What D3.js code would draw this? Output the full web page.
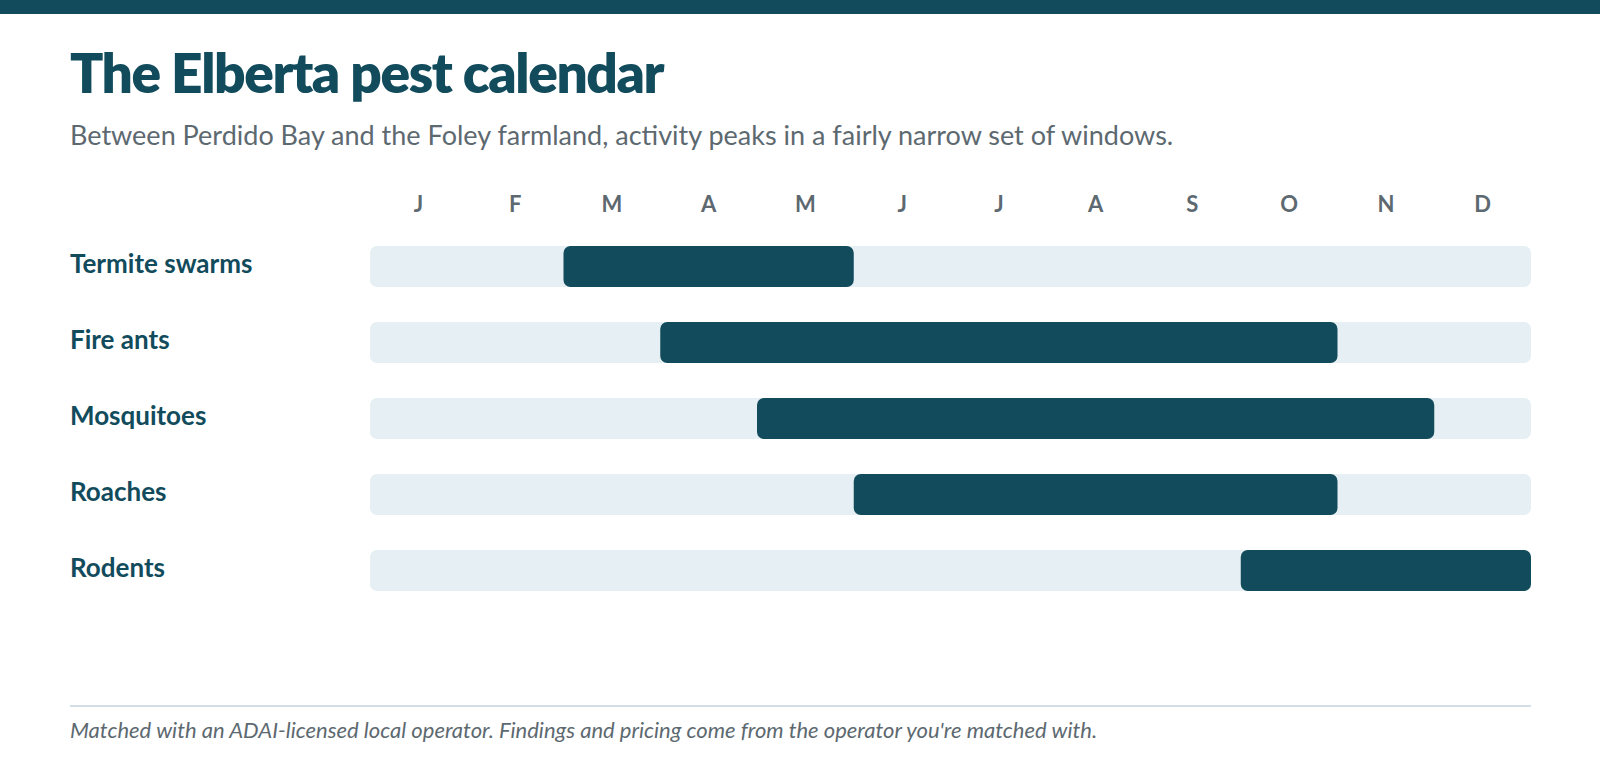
<!DOCTYPE html>
<html>
<head>
<meta charset="utf-8">
<script src="https://cdnjs.cloudflare.com/ajax/libs/d3/7.8.5/d3.min.js"></script>
<style>
  body { margin: 0; background: #fff; }
  svg { display: block; font-family: Lato, "Open Sans", sans-serif; }
</style>
</head>
<body>
<div class="chart"></div>
<script>
const width = 1600;
const height = 778;

// months shown across the top
const months = ["J", "F", "M", "A", "M", "J", "J", "A", "S", "O", "N", "D"];
// pests, first active month (0 = Jan) and last active month
const pests = ["Termite swarms", "Fire ants", "Mosquitoes", "Roaches", "Rodents"];
const startMonth = [2, 3, 4, 5, 9];
const endMonth = [4, 9, 10, 9, 11];

const dark = "#114b5c";
const grey = "#5d6970";

const svg = d3.select(".chart")
  .append("svg")
  .attr("width", width)
  .attr("height", height);

// top band
svg.append("rect")
  .attr("x", 0).attr("y", 0)
  .attr("width", width).attr("height", 14)
  .attr("fill", dark);

svg.append("text")
  .attr("x", 70).attr("y", 93)
  .attr("fill", dark)
  .attr("style", "font-size:55px;font-weight:800;letter-spacing:-1.4px")
  .text("The Elberta pest calendar");

svg.append("text")
  .attr("x", 70).attr("y", 145)
  .attr("fill", grey)
  .attr("style", "font-size:27px")
  .text("Between Perdido Bay and the Foley farmland, activity peaks in a fairly narrow set of windows.");

let xScale = d3.scaleLinear()
  .domain([0, 12])
  .range([370, 1531]);

let yScale = d3.scaleBand()
  .domain(pests)
  .range([246, 591])
  .paddingInner(0.46)
  .paddingOuter(0);

// month letters
svg.selectAll(".month")
  .data(months)
  .enter()
  .append("text")
  .attr("class", "month")
  .attr("x", (d, i) => xScale(i + 0.5))
  .attr("y", 212)
  .attr("text-anchor", "middle")
  .attr("fill", grey)
  .attr("style", "font-size:22px;font-weight:700")
  .text(d => d);

const rows = svg.selectAll(".row")
  .data(pests)
  .enter()
  .append("g")
  .attr("class", "row");

rows.append("text")
  .attr("x", 70)
  .attr("y", d => yScale(d) + yScale.bandwidth() / 2)
  .attr("dy", "0.24em")
  .attr("fill", dark)
  .attr("style", "font-size:26px;font-weight:700")
  .text(d => d);

rows.append("rect")
  .attr("x", xScale(0))
  .attr("y", d => yScale(d))
  .attr("width", xScale(12) - xScale(0))
  .attr("height", yScale.bandwidth())
  .attr("rx", 7)
  .attr("fill", "#e6eff3");

rows.append("rect")
  .attr("x", (d, i) => xScale(startMonth[i]))
  .attr("y", d => yScale(d))
  .attr("width", (d, i) => xScale(endMonth[i] + 1) - xScale(startMonth[i]))
  .attr("height", yScale.bandwidth())
  .attr("rx", 7)
  .attr("fill", dark);

// footer
svg.append("line")
  .attr("x1", 70).attr("x2", 1531)
  .attr("y1", 706).attr("y2", 706)
  .attr("stroke", "#d3dfe5")
  .attr("stroke-width", 2);

svg.append("text")
  .attr("x", 70).attr("y", 738)
  .attr("fill", grey)
  .attr("style", "font-size:22px;font-style:italic")
  .text("Matched with an ADAI-licensed local operator. Findings and pricing come from the operator you're matched with.");
</script>
</body>
</html>
